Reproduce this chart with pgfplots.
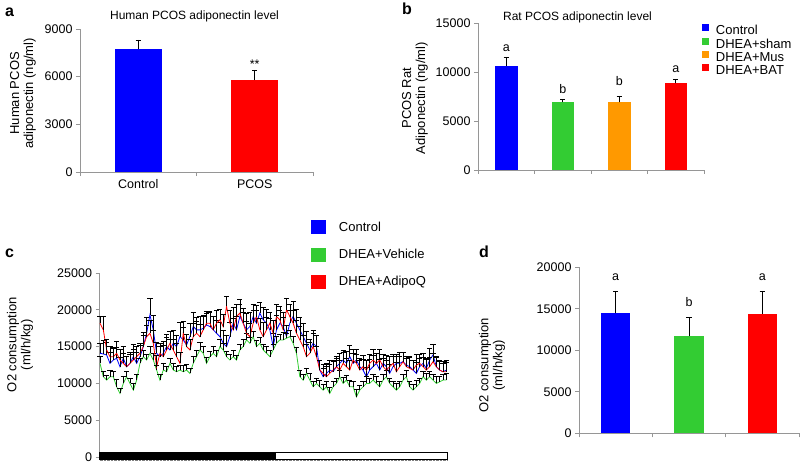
\documentclass[border=0pt]{standalone}
\usepackage{pgfplots}
\pgfplotsset{compat=1.18}
\usepackage{pgfplotstable}
\usepackage{fontspec}
\setmainfont{Liberation Sans}

\definecolor{cblue}{RGB}{0,0,255}
\definecolor{cgreen}{RGB}{51,204,51}
\definecolor{corange}{RGB}{255,153,0}
\definecolor{cred}{RGB}{255,0,0}
\definecolor{axgray}{RGB}{150,150,150}

% O2 consumption time course: control (c), DHEA+vehicle (v), DHEA+AdipoQ (q), with SEM
\pgfplotstableread{
i c ce v ve q qe
0 14090 1400 12725 900 18180 1000
1 14000 1800 10910 800 17270 1900
2 13860 1700 10450 700 14545 1500
3 12725 1500 10910 900 13635 1400
4 13180 1600 10910 800 13635 1300
5 13410 1500 9545 1000 14090 1600
6 12270 1300 8635 700 13180 1500
7 13410 1600 10000 900 12725 1300
8 12270 1400 10910 800 12270 1400
9 12725 1500 10000 700 12725 1200
10 13635 1700 9090 900 13180 1500
11 12725 1500 10450 800 13635 1400
12 13635 1600 12725 700 14090 1300
13 15000 1900 13635 900 15000 1600
14 16815 2200 13180 800 16360 1500
15 19320 2300 14090 1000 16815 1700
16 17270 2000 13180 900 15450 1800
17 14090 1500 11815 700 12270 1600
18 13635 1400 10450 800 14090 1400
19 14090 1600 11815 900 13635 1500
20 15000 1700 11590 800 14545 1700
21 14545 1500 12725 700 15450 1600
22 15450 1800 11815 900 14545 1400
23 15000 1600 11590 800 13635 1800
24 16360 1900 11815 700 12725 1500
25 15910 1700 11590 900 16815 1600
26 15225 1500 11815 800 15000 1700
27 16360 1800 11360 700 14545 1500
28 17725 2000 12725 900 16360 1800
29 17270 1700 13635 800 16815 1600
30 17270 1900 14545 1000 16360 1700
31 17500 1800 14090 900 17270 1900
32 17950 1600 12725 800 18180 1600
33 17725 2100 13635 700 18180 1500
34 17270 1900 14090 900 17270 1800
35 16815 1700 13635 800 18180 1700
36 16360 2000 15000 1000 18635 1500
37 15450 1800 14545 900 17725 1600
38 15000 1600 13635 700 20450 1400
39 16360 1900 13180 800 18180 1800
40 18180 2200 13635 900 17270 1600
41 17270 1800 13180 700 19090 1700
42 19090 1700 14545 800 19545 1900
43 18180 2000 15000 1000 18180 1500
44 17270 2300 15910 900 16815 1600
45 17725 1900 15450 800 16360 1800
46 19090 1600 16360 700 18180 1700
47 18180 1800 15000 900 19090 1500
48 19545 1500 15450 800 17270 1600
49 18635 1700 14545 700 16360 1900
50 18180 1900 14090 900 17270 1700
51 17270 1600 13635 800 18180 1500
52 15000 1800 14545 700 16815 1800
53 17270 2000 15450 900 19090 1600
54 18180 1700 15910 800 18635 1900
55 17725 1900 15910 1000 17270 1700
56 16360 1600 16135 700 20000 1500
57 18180 1800 16360 800 19090 1600
58 19090 2100 15450 900 18180 1800
59 18180 1900 14090 800 16815 1700
60 17270 1700 10910 900 15910 1900
61 16360 1800 10450 800 15000 1600
62 15450 1600 11360 700 13635 1700
63 14545 1500 10450 900 14090 1500
64 15450 1700 9545 800 15000 1800
65 15000 1600 10000 700 13635 1400
66 11815 1300 9545 900 11815 1300
67 10910 1200 9090 800 11360 1200
68 11360 1400 9545 700 10910 1400
69 11815 1300 8635 900 11360 1300
70 11590 1500 9545 800 11815 1200
71 12270 1200 10000 700 12270 1400
72 12725 1400 10910 900 11815 1300
73 13180 1300 10000 800 12725 1500
74 12725 1600 10450 700 12270 1200
75 13635 1500 9545 900 11815 1300
76 12725 1300 9545 800 13180 1400
77 13180 1400 8180 1000 12725 1200
78 12270 1200 9090 700 11815 1300
79 11815 1500 9545 800 12270 1500
80 10910 1300 10000 900 11815 1300
81 11815 1400 10000 700 12725 1200
82 12270 1600 10450 800 13180 1400
83 12725 1300 10000 900 12725 1300
84 11815 1400 9545 700 13180 1500
85 12725 1200 10450 800 12270 1200
86 12270 1500 10910 900 11815 1300
87 11360 1300 10000 700 12270 1400
88 12270 1400 9545 800 12725 1200
89 12725 1200 9090 900 11590 1300
90 12725 1500 9545 700 12270 1400
91 12955 1300 10450 800 12955 1300
92 12500 1200 10910 900 12270 1200
93 12270 1400 9545 700 12045 1500
94 11815 1300 9090 800 11815 1300
95 11360 1500 9545 900 12500 1400
96 12270 1200 10000 700 12725 1200
97 12725 1400 10910 800 12270 1300
98 12045 1300 10450 900 11815 1500
99 13180 1600 10910 700 12270 1300
100 13860 1500 10450 800 12955 1200
101 12270 1300 10000 900 12270 1400
102 11815 1200 10225 700 11815 1300
103 11590 1400 10450 800 11590 1200
104 11815 1300 10450 900 11590 1300
}\oxygen

\pgfplotsset{
  panel/.style={
    scale only axis, clip=false, scaled y ticks=false,
    axis x line*=bottom, axis y line*=left,
    axis line style={axgray, line width=0.7pt},
    tick style={axgray, line width=0.7pt},
    tick align=outside, major tick length=4pt,
    ytick pos=left, xtick pos=bottom,
    tick label style={font=\fontsize{12.5}{14}\selectfont},
    label style={font=\fontsize{13}{14}\selectfont, align=center},
    /pgf/number format/1000 sep={},
    /pgf/number format/assume math mode=true,
    ymin=0,
  },
  errs/.style={
    error bars/y dir=plus, error bars/y explicit,
    error bars/error bar style={black, line width=0.6pt},
    error bars/error mark options={rotate=90, black, mark size=2.6pt, line width=0.6pt},
  },
}

\begin{document}
\begin{tikzpicture}
\useasboundingbox (0pt,0pt) rectangle (800pt,-465pt);
\tikzset{lbl/.style={font=\fontsize{12.5}{14}\selectfont, anchor=base, inner sep=0pt},
         ttl/.style={font=\fontsize{12}{14}\selectfont, anchor=base, inner sep=0pt},
         plab/.style={font=\bfseries\fontsize{16}{17}\selectfont, anchor=base west, inner sep=0pt}}

% ---------- a ----------
\begin{axis}[panel, at={(80pt,-172pt)}, anchor=south west,
  width=233pt, height=143pt, ybar,
  xmin=-0.5, xmax=1.5, ymax=9000, ytick={0,3000,6000,9000},
  xtick={-0.5,0.5,1.5}, x tick label as interval, xticklabels={Control,PCOS},
  ylabel={Human PCOS\\adiponectin (ng/ml)},
  ylabel style={at={(axis description cs:-0.245,0.55)}, anchor=center},
]
\addplot[fill=cblue, draw=none, bar width=46.6pt, bar shift=0pt, errs] coordinates {(0,7720) +- (0,590)};
\addplot[fill=cred, draw=none, bar width=46.6pt, bar shift=0pt, errs] coordinates {(1,5790) +- (0,590)};
\node[lbl, anchor=center] at (axis cs:1,6770) {**};
\end{axis}
\node[ttl] at (194.5pt,-20pt) {Human PCOS adiponectin level};
\node[plab] at (5pt,-17pt) {a};

% ---------- b ----------
\begin{axis}[panel, at={(478pt,-170pt)}, anchor=south west,
  width=226pt, height=146.7pt, ybar,
  legend image code/.code={\fill[#1] (0pt,-0.5pt) rectangle (7pt,6.5pt); \path (12pt,0pt);},
  xmin=-0.5, xmax=3.5, ymax=15000, ytick={0,5000,10000,15000},
  xtick={-0.5,0.5,1.5,2.5,3.5}, xticklabels={},
  ylabel={PCOS Rat\\Adiponectin (ng/ml)},
  ylabel style={at={(axis description cs:-0.279,0.49)}, anchor=center},
  legend style={at={(axis description cs:0.99,1.0)}, anchor=north west, draw=none, fill=none,
    font=\fontsize{13}{14}\selectfont, row sep=-1.5pt, inner sep=0pt},
  legend cell align=left,
]
\addplot[fill=cblue, draw=none, bar width=22.5pt, bar shift=0pt, errs] coordinates {(0,10660) +- (0,860)};
\addlegendentry{Control}
\addplot[fill=cgreen, draw=none, bar width=22.5pt, bar shift=0pt, errs] coordinates {(1,6920) +- (0,310)};
\addlegendentry{DHEA+sham}
\addplot[fill=corange, draw=none, bar width=22.5pt, bar shift=0pt, errs] coordinates {(2,6920) +- (0,650)};
\addlegendentry{DHEA+Mus}
\addplot[fill=cred, draw=none, bar width=22.5pt, bar shift=0pt, errs] coordinates {(3,8860) +- (0,410)};
\addlegendentry{DHEA+BAT}
\node[lbl] at (axis cs:0,12070) {a};
\node[lbl] at (axis cs:1,7840) {b};
\node[lbl] at (axis cs:2,8590) {b};
\node[lbl] at (axis cs:3,9950) {a};
\end{axis}
\node[ttl] at (577.5pt,-20.7pt) {Rat PCOS adiponectin level};
\node[plab] at (402pt,-15pt) {b};

% ---------- c ----------
\begin{axis}[panel, at={(99.5pt,-457pt)}, anchor=south west,
  width=347.5pt, height=184pt,
  xmin=-0.15, xmax=104.2, ymax=25000, ytick={0,5000,...,25000}, xtick=\empty,
  ylabel={O2 consumption\\(ml/h/kg)},
  ylabel style={at={(axis description cs:-0.229,0.61)}, anchor=center},
  legend image code/.code={\fill[#1] (0pt,-6.5pt) rectangle (14pt,6.5pt); \path (25pt,0pt);},
  legend style={at={(axis description cs:0.6086,1.291)}, anchor=north west, draw=none, fill=none,
    font=\fontsize{13}{14}\selectfont, row sep=12.5pt, inner sep=0pt},
  legend cell align=left,
]
\addplot[cblue, line width=0.8pt, mark=none, errs] table[x=i, y=c, y error=ce] {\oxygen};
\addlegendentry{Control}
\addplot[cgreen, line width=0.8pt, mark=none, errs] table[x=i, y=v, y error=ve] {\oxygen};
\addlegendentry{DHEA+Vehicle}
\addplot[cred, line width=0.8pt, mark=none, errs] table[x=i, y=q, y error=qe] {\oxygen};
\addlegendentry{DHEA+AdipoQ}
\draw[gray, densely dotted] (axis cs:-0.15,-450) -- (axis cs:104.2,-450);
\draw[black, fill=black, line width=0.5pt] (axis cs:-0.15,-300) rectangle (axis cs:52.5,590);
\draw[black, fill=white, line width=0.5pt] (axis cs:52.5,-300) rectangle (axis cs:104.2,590);
\end{axis}
\node[plab] at (5pt,-257pt) {c};

% ---------- d ----------
\begin{axis}[panel, at={(579pt,-433.3pt)}, anchor=south west,
  width=220pt, height=166pt, ybar,
  xmin=-0.5, xmax=2.5, ymax=20000, ytick={0,5000,...,20000},
  xtick={-0.5,0.5,1.5,2.5}, xticklabels={},
  ylabel={O2 consumption\\(ml/h/kg)},
  ylabel style={at={(axis description cs:-0.395,0.41)}, anchor=center},
]
\addplot[fill=cblue, draw=none, bar width=29.3pt, bar shift=0pt, errs] coordinates {(0,14460) +- (0,2680)};
\addplot[fill=cgreen, draw=none, bar width=29.3pt, bar shift=0pt, errs] coordinates {(1,11720) +- (0,2210)};
\addplot[fill=cred, draw=none, bar width=29.3pt, bar shift=0pt, errs] coordinates {(2,14410) +- (0,2730)};
\node[lbl] at (axis cs:0,18390) {a};
\node[lbl] at (axis cs:1,15250) {b};
\node[lbl] at (axis cs:2,18470) {a};
\end{axis}
\node[plab] at (479pt,-257pt) {d};
\end{tikzpicture}
\end{document}
